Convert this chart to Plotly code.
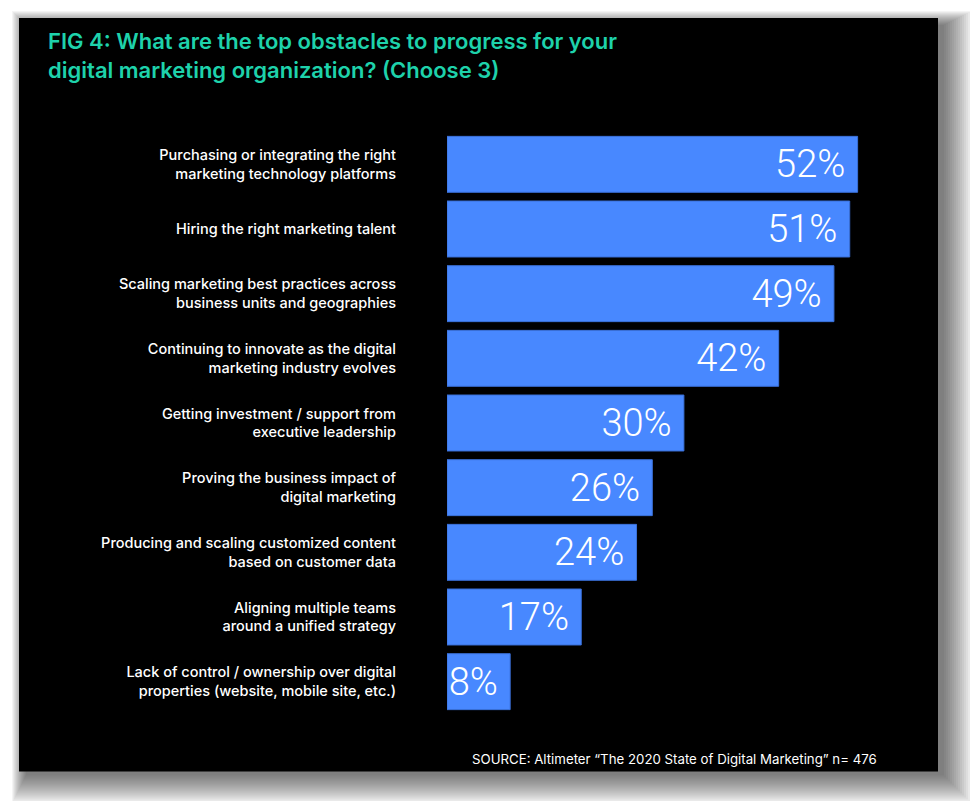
import plotly.graph_objects as go

categories = [
    "Purchasing or integrating the right<br>marketing technology platforms",
    "Hiring the right marketing talent",
    "Scaling marketing best practices across<br>business units and geographies",
    "Continuing to innovate as the digital<br>marketing industry evolves",
    "Getting investment / support from<br>executive leadership",
    "Proving the business impact of<br>digital marketing",
    "Producing and scaling customized content<br>based on customer data",
    "Aligning multiple teams<br>around a unified strategy",
    "Lack of control / ownership over digital<br>properties (website, mobile site, etc.)",
]
values = [52, 51, 49, 42, 30, 26, 24, 17, 8]

title_text = "FIG 4: What are the top obstacles to progress for your<br>digital marketing organization? (Choose 3)"
source_text = "SOURCE: Altimeter \u201cThe 2020 State of Digital Marketing\u201d n= 476"

W, H = 978, 801
OFF = 8  # page body margin
PL, PR = 447 - OFF, 905 - OFF
PT, PB = 132 - OFF, 714.5 - OFF
XMAX = 58


def px(x):
    return (x - OFF - PL) / (PR - PL)


def py(y):
    return (PB - (y - OFF)) / (PB - PT)


fig = go.Figure(go.Bar(
    x=values,
    y=categories,
    orientation="h",
    marker=dict(color="#4888ff", line=dict(color="#3a70d8", width=1)),
    width=0.865,
    text=[f"{v}%\u00a0" for v in values],
    textposition="inside",
    insidetextanchor="end",
    textangle=0,
    constraintext="none",
    textfont=dict(family="Roboto", size=38, color="white", weight=300),
    hoverinfo="skip",
))

shapes = []
# soft shadow
for k in range(30, 0, -2):
    shapes.append(dict(
        type="rect", xref="paper", yref="paper", layer="below",
        x0=px(19 + 8 - k * 0.5), x1=px(938 + 4 + k),
        y0=py(18 + 8 - k * 0.5), y1=py(772 + 2 + k),
        fillcolor="rgba(0,0,0,0.045)", line=dict(width=0),
    ))
# black panel
shapes.append(dict(
    type="rect", xref="paper", yref="paper", layer="below",
    x0=px(19), x1=px(938), y0=py(18), y1=py(772),
    fillcolor="black", line=dict(width=0),
))

annotations = [
    dict(text=title_text, xref="paper", yref="paper", x=px(46), y=py(26),
         xanchor="left", yanchor="top", align="left", showarrow=False,
         font=dict(family="Inter", size=22, color="#1ed2ab", weight=600)),
    dict(text=source_text, xref="paper", yref="paper", x=px(470), y=py(760),
         xanchor="left", yanchor="middle", align="left", showarrow=False,
         font=dict(family="Inter", size=13.25, color="white")),
]

fig.update_layout(
    width=W, height=H,
    margin=dict(l=PL, r=W - PR, t=PT, b=H - PB),
    paper_bgcolor="white",
    plot_bgcolor="rgba(0,0,0,0)",
    shapes=shapes,
    annotations=annotations,
    showlegend=False,
    xaxis=dict(range=[0, XMAX], visible=False, fixedrange=True),
    yaxis=dict(autorange="reversed", showgrid=False, zeroline=False, showline=False,
               ticks="", ticklabelstandoff=50,
               tickfont=dict(family="Inter", size=14.5, color="white", weight=500)),
)

fig.write_html("out.html")
